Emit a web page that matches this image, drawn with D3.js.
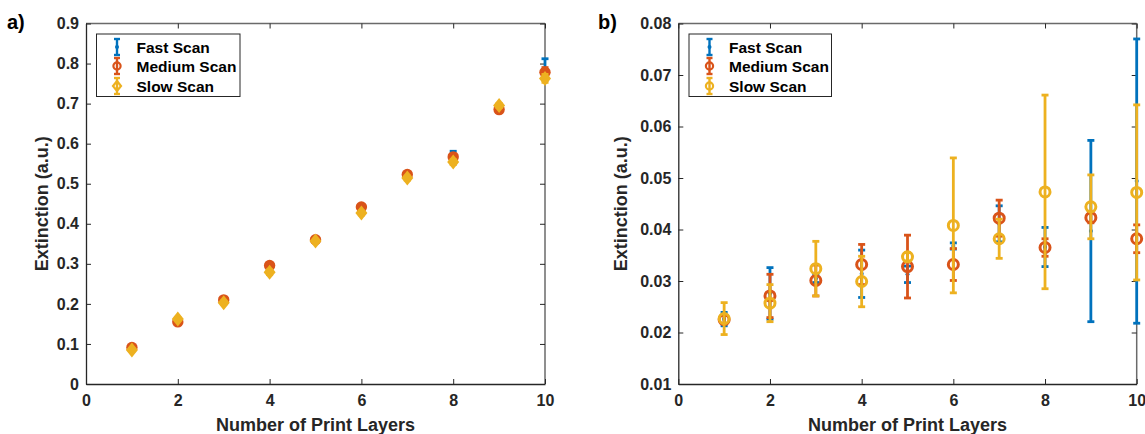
<!DOCTYPE html>
<html>
<head>
<meta charset="utf-8">
<script src="https://cdn.jsdelivr.net/npm/d3@7"></script>
<style>
  body { margin: 0; background: #fff; }
  svg { display: block; }
  text { font-family: "Liberation Sans", Arial, Helvetica, sans-serif; font-weight: bold; fill: #262626; }
</style>
</head>
<body>
<svg id="chart" width="1145" height="434"></svg>
<script>
// ---------- data ----------
const layers = [1, 2, 3, 4, 5, 6, 7, 8, 9, 10];
const seriesNames = ["Fast Scan", "Medium Scan", "Slow Scan"];
const seriesColors = ["#0072BD", "#D95319", "#EDB120"];

// Panel a
const fastA    = [0.088, 0.158, 0.208, 0.290, 0.358, 0.438, 0.520, 0.570, 0.688, 0.788];
const fastAErr = [0.004, 0.004, 0.005, 0.008, 0.005, 0.006, 0.006, 0.011, 0.006, 0.024];
const medA     = [0.091, 0.155, 0.210, 0.296, 0.360, 0.442, 0.523, 0.567, 0.685, 0.778];
const medAErr  = [0.004, 0.004, 0.005, 0.006, 0.004, 0.006, 0.006, 0.007, 0.005, 0.012];
const slowA    = [0.085, 0.162, 0.203, 0.279, 0.357, 0.427, 0.514, 0.554, 0.695, 0.763];
const slowAErr = [0.003, 0.004, 0.004, 0.006, 0.004, 0.005, 0.005, 0.006, 0.005, 0.010];

// Panel b
const fastB    = [0.0226, 0.0276, 0.0305, 0.0314, 0.0313, 0.0368, 0.0411, 0.0366, 0.0397, 0.0494];
const fastBErr = [0.0013, 0.0050, 0.0008, 0.0046, 0.0016, 0.0006, 0.0035, 0.0038, 0.0176, 0.0276];
const medB     = [0.0225, 0.0271, 0.0301, 0.0332, 0.0328, 0.0332, 0.0422, 0.0365, 0.0423, 0.0382];
const medBErr  = [0.0008, 0.0042, 0.0030, 0.0039, 0.0061, 0.0031, 0.0035, 0.0017, 0.0010, 0.0027];
const slowB    = [0.0227, 0.0257, 0.0324, 0.0299, 0.0347, 0.0408, 0.0382, 0.0473, 0.0444, 0.0472];
const slowBErr = [0.0031, 0.0036, 0.0053, 0.0049, 0.0008, 0.0131, 0.0038, 0.0188, 0.0062, 0.0170];

const xTicks = [0, 2, 4, 6, 8, 10];
const yTicksA = [0, 0.1, 0.2, 0.3, 0.4, 0.5, 0.6, 0.7, 0.8, 0.9];
const yTicksB = [0.01, 0.02, 0.03, 0.04, 0.05, 0.06, 0.07, 0.08];
const xLabel = "Number of Print Layers";
const yLabel = "Extinction (a.u.)";

// ---------- drawing ----------
const svg = d3.select("#chart");

function drawPanel(cfg) {
  const g = svg.append("g");
  const x = d3.scaleLinear().domain([0, 10]).range([cfg.left, cfg.right]);
  const y = d3.scaleLinear().domain(cfg.yDomain).range([cfg.bottom, cfg.top]);

  // box top / right
  g.append("line").attr("x1", cfg.left).attr("x2", cfg.right).attr("y1", cfg.top).attr("y2", cfg.top)
    .attr("stroke", "#6a6a6a").attr("stroke-width", 1.5);
  g.append("line").attr("x1", cfg.right).attr("x2", cfg.right).attr("y1", cfg.top).attr("y2", cfg.bottom)
    .attr("stroke", "#6a6a6a").attr("stroke-width", 1.5);
  // top & right ticks
  g.append("g").attr("transform", `translate(0,${cfg.top})`)
    .call(d3.axisTop(x).tickValues(xTicks).tickSizeInner(-5).tickSizeOuter(0).tickFormat(""))
    .call(s => s.select(".domain").remove())
    .call(s => s.selectAll("line").attr("stroke", "#262626"));
  g.append("g").attr("transform", `translate(${cfg.right},0)`)
    .call(d3.axisRight(y).tickValues(cfg.yTicks).tickSizeInner(-5).tickSizeOuter(0).tickFormat(""))
    .call(s => s.select(".domain").remove())
    .call(s => s.selectAll("line").attr("stroke", "#262626"));

  // bottom axis
  const xa = g.append("g").attr("transform", `translate(0,${cfg.bottom})`)
    .call(d3.axisBottom(x).tickValues(xTicks).tickSizeInner(-5).tickSizeOuter(0).tickPadding(11).tickFormat(d3.format("d")));
  xa.select(".domain").attr("stroke", "#262626").attr("stroke-width", 1.3);
  xa.selectAll("line").attr("stroke", "#262626");
  xa.selectAll("text").attr("font-size", 16).attr("font-family", null).style("fill", "#262626");

  // left axis
  const ya = g.append("g").attr("transform", `translate(${cfg.left},0)`)
    .call(d3.axisLeft(y).tickValues(cfg.yTicks).tickSizeInner(-5).tickSizeOuter(0).tickPadding(7).tickFormat(cfg.yFormat));
  ya.select(".domain").attr("stroke", "#262626").attr("stroke-width", 1.3);
  ya.selectAll("line").attr("stroke", "#262626");
  ya.selectAll("text").attr("font-size", 16).attr("font-family", null).style("fill", "#262626");

  // axis titles
  g.append("text").attr("x", (cfg.left + cfg.right) / 2).attr("y", 431)
    .attr("text-anchor", "middle").attr("font-size", 18).text(xLabel);
  g.append("text").attr("transform", `translate(${cfg.yLabelX},${(cfg.top + cfg.bottom) / 2}) rotate(-90)`)
    .attr("text-anchor", "middle").attr("font-size", 18).text(yLabel);

  // panel label
  g.append("text").attr("x", cfg.tagX).attr("y", 29).attr("font-size", 20)
    .style("fill", "#000").text(cfg.tag);

  // series
  const cap = 3.5;
  cfg.series.forEach((s, si) => {
    const color = seriesColors[si];
    const sg = g.append("g");
    const pts = layers.map((l, i) => ({ l, v: s.vals[i], e: s.errs[i] }));
    const eb = sg.selectAll("g.eb").data(pts).join("g");
    eb.append("line").attr("x1", d => x(d.l)).attr("x2", d => x(d.l))
      .attr("y1", d => y(d.v - d.e)).attr("y2", d => y(d.v + d.e))
      .attr("stroke", color).attr("stroke-width", 2.8);
    eb.append("line").attr("x1", d => x(d.l) - cap).attr("x2", d => x(d.l) + cap)
      .attr("y1", d => y(d.v + d.e)).attr("y2", d => y(d.v + d.e))
      .attr("stroke", color).attr("stroke-width", 2.8);
    eb.append("line").attr("x1", d => x(d.l) - cap).attr("x2", d => x(d.l) + cap)
      .attr("y1", d => y(d.v - d.e)).attr("y2", d => y(d.v - d.e))
      .attr("stroke", color).attr("stroke-width", 2.8);
    drawMarkers(sg, pts, s.marker, color, x, y);
  });

  // legend
  const lg = g.append("g");
  lg.append("rect").attr("x", cfg.legX).attr("y", 34).attr("width", cfg.legW).attr("height", 62.5)
    .attr("fill", "#fff").attr("stroke", "#262626").attr("stroke-width", 1);
  const rowY = [47, 66, 86];
  cfg.series.forEach((s, si) => {
    const color = seriesColors[si];
    const mx = cfg.legX + 20.5, my = rowY[si];
    lg.append("line").attr("x1", mx).attr("x2", mx).attr("y1", my - 8).attr("y2", my + 8)
      .attr("stroke", color).attr("stroke-width", 2.4);
    [my - 8, my + 8].forEach(cy => lg.append("line").attr("x1", mx - 3).attr("x2", mx + 3)
      .attr("y1", cy).attr("y2", cy).attr("stroke", color).attr("stroke-width", 2.4));
    const lm = s.marker === "dot" ? "dot" : (s.marker === "diamondFill" ? "diamondOpen" : "circleOpen");
    drawLegendMarker(lg, mx, my, lm, color);
    lg.append("text").attr("x", cfg.legX + 40).attr("y", my + 5.5).attr("font-size", 15.5)
      .style("fill", "#000").text(seriesNames[si]);
  });
}

function drawMarkers(sg, pts, marker, color, x, y) {
  if (marker === "dot") {
    sg.selectAll("circle.m").data(pts).join("circle")
      .attr("cx", d => x(d.l)).attr("cy", d => y(d.v)).attr("r", 2).attr("fill", color);
  } else if (marker === "circleFill") {
    sg.selectAll("circle.m").data(pts).join("circle")
      .attr("cx", d => x(d.l)).attr("cy", d => y(d.v)).attr("r", 5.7).attr("fill", color);
  } else if (marker === "circleOpen") {
    sg.selectAll("circle.m").data(pts).join("circle")
      .attr("cx", d => x(d.l)).attr("cy", d => y(d.v)).attr("r", 5)
      .attr("fill", "none").attr("stroke", color).attr("stroke-width", 3);
  } else if (marker === "diamondFill") {
    sg.selectAll("path.m").data(pts).join("path")
      .attr("d", d => {
        const cx = x(d.l), cy = y(d.v), w = 6, h = 7.5;
        return `M${cx},${cy - h}L${cx + w},${cy}L${cx},${cy + h}L${cx - w},${cy}Z`;
      })
      .attr("fill", color);
  }
}

function drawLegendMarker(lg, mx, my, m, color) {
  if (m === "dot") {
    lg.append("circle").attr("cx", mx).attr("cy", my).attr("r", 2).attr("fill", color);
  } else if (m === "circleOpen") {
    lg.append("circle").attr("cx", mx).attr("cy", my).attr("r", 3.6)
      .attr("fill", "none").attr("stroke", color).attr("stroke-width", 2.2);
  } else {
    lg.append("path").attr("d", `M${mx},${my - 5}L${mx + 4},${my}L${mx},${my + 5}L${mx - 4},${my}Z`)
      .attr("fill", "none").attr("stroke", color).attr("stroke-width", 2.2);
  }
}

const fmtA = d => d === 0 ? "0" : d3.format(".1f")(d);
const fmtB = d3.format(".2f");

drawPanel({
  tag: "a)", tagX: 7,
  left: 86, right: 545, top: 23.5, bottom: 384,
  yDomain: [0, 0.9], yTicks: yTicksA, yFormat: fmtA, yLabelX: 48,
  legX: 96.5, legW: 143.5,
  series: [
    { vals: fastA, errs: fastAErr, marker: "dot" },
    { vals: medA, errs: medAErr, marker: "circleFill" },
    { vals: slowA, errs: slowAErr, marker: "diamondFill" }
  ]
});

drawPanel({
  tag: "b)", tagX: 598,
  left: 678.3, right: 1136.7, top: 23.5, bottom: 384,
  yDomain: [0.01, 0.08], yTicks: yTicksB, yFormat: fmtB, yLabelX: 627,
  legX: 689, legW: 142.5,
  series: [
    { vals: fastB, errs: fastBErr, marker: "dot" },
    { vals: medB, errs: medBErr, marker: "circleOpen" },
    { vals: slowB, errs: slowBErr, marker: "circleOpen" }
  ]
});
</script>
</body>
</html>
